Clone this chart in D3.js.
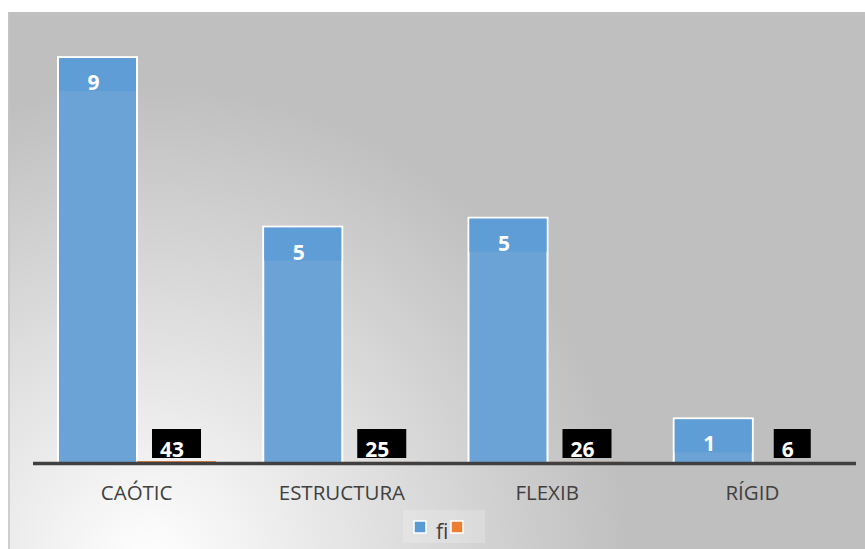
<!DOCTYPE html>
<html>
<head>
<meta charset="utf-8">
<script src="https://cdn.jsdelivr.net/npm/d3@7"></script>
<style>
  body { margin: 0; background: #fff; }
  svg { display: block; }
</style>
</head>
<body>
<svg id="chart" width="865" height="549"></svg>
<script>
// chart data
const categories = ["CAÓTIC", "ESTRUCTURA", "FLEXIB", "RÍGID"];
const fiValues = [91, 53, 55, 10];
const fiLabels = ["9", "5", "5", "1"];
const pctValues = [0.43, 0.25, 0.26, 0.06];
const pctLabels = ["43", "25", "26", "6"];
const seriesNames = ["fi", "%"];
const legendLabels = ["fi", ""];

const svg = d3.select("#chart");
const defs = svg.append("defs");

const bg = defs.append("radialGradient")
    .attr("id", "bg")
    .attr("gradientUnits", "userSpaceOnUse")
    .attr("cx", 150).attr("cy", 565).attr("r", 480);
bg.append("stop").attr("offset", "0%").attr("stop-color", "#ffffff");
bg.append("stop").attr("offset", "100%").attr("stop-color", "#bfbfbf");

// background panel
svg.append("rect")
    .attr("x", 8).attr("y", 12)
    .attr("width", 857).attr("height", 537)
    .attr("fill", "url(#bg)");
svg.append("line")
    .attr("x1", 9).attr("x2", 9)
    .attr("y1", 12).attr("y2", 549)
    .attr("stroke", "#c4c4c4").attr("stroke-width", 1.5);

const x = d3.scaleBand()
    .domain(categories)
    .range([34, 855]);

const xs = d3.scaleBand()
    .domain(seriesNames)
    .range([24, 182]);

const y = d3.scaleLinear()
    .domain([0, 100])
    .range([463, 17]);

const rows = categories.map((c, i) => ({
    cat: c, fi: fiValues[i], fiLabel: fiLabels[i], pct: pctValues[i], pctLabel: pctLabels[i]
}));

const g = svg.append("g");

// fi bars
g.selectAll(".bar-fi")
    .data(rows)
    .enter().append("rect")
    .attr("class", "bar-fi")
    .attr("x", d => x(d.cat) + xs("fi"))
    .attr("y", d => y(d.fi))
    .attr("width", xs.bandwidth())
    .attr("height", d => y(0) - y(d.fi))
    .attr("fill", "#6ca3d6")
    .attr("stroke", "#ffffff")
    .attr("stroke-width", 2);

// label boxes inside fi bars
g.selectAll(".lbl-fi-box")
    .data(rows)
    .enter().append("rect")
    .attr("class", "lbl-fi-box")
    .attr("x", d => x(d.cat) + xs("fi") + 1)
    .attr("y", d => y(d.fi) + 1)
    .attr("width", xs.bandwidth() - 2)
    .attr("height", 33)
    .attr("fill", "#5f9dd6");

g.selectAll(".lbl-fi")
    .data(rows)
    .enter().append("text")
    .attr("class", "lbl-fi")
    .attr("x", d => x(d.cat) + xs("fi") + xs.bandwidth() / 2 - 4)
    .attr("y", d => y(d.fi) + 33)
    .attr("text-anchor", "middle")
    .attr("font-family", "Open Sans, sans-serif")
    .attr("font-weight", "bold")
    .attr("font-size", "21px")
    .attr("fill", "#ffffff")
    .text(d => d.fiLabel);

// % series (bars are tiny, only labels show)
g.selectAll(".bar-pct")
    .data(rows)
    .enter().append("rect")
    .attr("class", "bar-pct")
    .attr("x", d => x(d.cat) + xs("%"))
    .attr("y", d => y(d.pct))
    .attr("width", xs.bandwidth())
    .attr("height", d => y(0) - y(d.pct))
    .attr("fill", "#ed7d31");

const pctLbl = g.selectAll(".lbl-pct")
    .data(rows)
    .enter().append("g")
    .attr("class", "lbl-pct");

pctLbl.append("text")
    .attr("y", 457)
    .attr("font-family", "Open Sans, sans-serif")
    .attr("font-weight", "bold")
    .attr("font-size", "21px")
    .attr("fill", "#ffffff")
    .text(d => d.pctLabel);

pctLbl.each(function (d) {
    const t = d3.select(this).select("text");
    const w = t.node().getComputedTextLength();
    const bw = w + 25;
    const cx = x(d.cat) + xs("%") + xs.bandwidth() / 2;
    d3.select(this).insert("rect", "text")
        .attr("x", cx - bw / 2)
        .attr("y", 429)
        .attr("width", bw)
        .attr("height", 29)
        .attr("fill", "#000000");
    t.attr("x", cx - bw / 2 + 8);
});

// x axis
const axis = svg.append("g")
    .attr("transform", "translate(0,463.5)")
    .call(d3.axisBottom(x).tickSize(0));
axis.select(".domain")
    .attr("d", "M33,0H856")
    .attr("stroke", "#404040")
    .attr("stroke-width", 3.5);
axis.selectAll("text")
    .attr("y", 36)
    .attr("dy", 0)
    .attr("font-family", "Open Sans, sans-serif")
    .attr("font-size", "20.5px")
    .attr("fill", "#404040");

// legend
const legend = svg.append("g");
legend.append("rect")
    .attr("x", 403).attr("y", 510)
    .attr("width", 82).attr("height", 33)
    .attr("fill", "#ffffff").attr("fill-opacity", 0.2);
legend.append("rect")
    .attr("x", 414).attr("y", 521)
    .attr("width", 12).attr("height", 12)
    .attr("fill", "#5b9bd5").attr("stroke", "#ffffff").attr("stroke-width", 1.5);
legend.append("text")
    .attr("x", 436).attr("y", 539)
    .attr("font-family", "Open Sans, sans-serif")
    .attr("font-size", "21px")
    .attr("fill", "#404040")
    .text(legendLabels[0]);
legend.append("rect")
    .attr("x", 451).attr("y", 521)
    .attr("width", 12).attr("height", 12)
    .attr("fill", "#ed7d31").attr("stroke", "#ffffff").attr("stroke-width", 1.5);
</script>
</body>
</html>
